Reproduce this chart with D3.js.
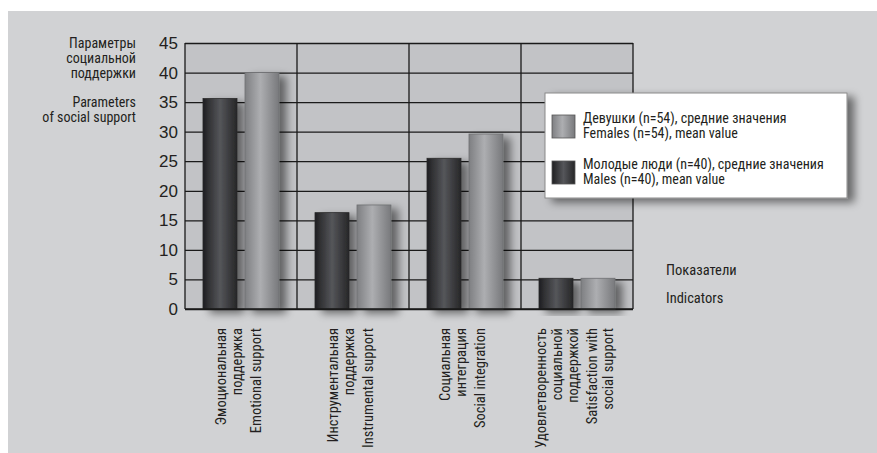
<!DOCTYPE html>
<html>
<head>
<meta charset="utf-8">
<script src="https://cdn.jsdelivr.net/npm/d3@7"></script>
<style>
  body { margin: 0; background: #fff; }
  text { font-family: "Liberation Sans Narrow", "Roboto Condensed", "Noto Sans", sans-serif; fill: #231f20; }
</style>
</head>
<body>
<div class="chart"></div>
<script>
// categories (Russian lines + English line for each group)
var categoriesRu = [
  ["Эмоциональная", "поддержка"],
  ["Инструментальная", "поддержка"],
  ["Социальная", "интеграция"],
  ["Удовлетворенность", "социальной", "поддержкой"]
];
var categoriesEn = [
  ["Emotional support"],
  ["Instrumental support"],
  ["Social integration"],
  ["Satisfaction with", "social support"]
];
// series values
var males = [35.6, 16.3, 25.5, 5.2];
var females = [40.0, 17.6, 29.6, 5.2];
// tick values
var yTicks = [0, 5, 10, 15, 20, 25, 30, 35, 40, 45];
var legendLabels = [
  ["Девушки (n=54), средние значения", "Females (n=54), mean value"],
  ["Молодые люди (n=40), средние значения", "Males (n=40), mean value"]
];

function init(){
  var w = 877, h = 453;
  var left = 185, right = 633, top = 43, bottom = 309;

  var svg = d3.select("div.chart").append("svg")
    .attr("width", w).attr("height", h);

  var defs = svg.append("defs");

  // bar gradients
  var gDark = defs.append("linearGradient").attr("id", "gDark");
  gDark.append("stop").attr("offset", "0%").attr("stop-color", "#1f1f21");
  gDark.append("stop").attr("offset", "50%").attr("stop-color", "#55565a");
  gDark.append("stop").attr("offset", "100%").attr("stop-color", "#262628");

  var gLight = defs.append("linearGradient").attr("id", "gLight");
  gLight.append("stop").attr("offset", "0%").attr("stop-color", "#7e7f82");
  gLight.append("stop").attr("offset", "45%").attr("stop-color", "#adaeb1");
  gLight.append("stop").attr("offset", "100%").attr("stop-color", "#78797c");

  var shadow = defs.append("filter").attr("id", "shadow")
    .attr("x", "-30%").attr("y", "-10%").attr("width", "180%").attr("height", "130%");
  shadow.append("feGaussianBlur").attr("in", "SourceAlpha").attr("stdDeviation", 4);
  shadow.append("feOffset").attr("dx", 7).attr("dy", 4).attr("result", "b");
  shadow.append("feComponentTransfer").append("feFuncA").attr("type", "linear").attr("slope", 0.5);
  var m = shadow.append("feMerge");
  m.append("feMergeNode");
  m.append("feMergeNode").attr("in", "SourceGraphic");

  // background
  svg.append("rect").attr("x", 8).attr("y", 11).attr("width", w - 8).attr("height", h - 11)
    .attr("fill", "#d1d2d4");

  var xScale = d3.scaleBand().domain(d3.range(categoriesRu.length)).range([left, right]);
  var yScale = d3.scaleLinear().domain([0, 45]).range([bottom, top]);

  // plot area
  svg.append("rect").attr("x", left).attr("y", top)
    .attr("width", right - left).attr("height", bottom - top)
    .attr("fill", "#c2c3c6");

  // horizontal grid
  svg.append("g")
    .attr("transform", "translate(" + left + ",0)")
    .call(d3.axisLeft(yScale).tickValues(yTicks).tickSize(-(right - left)).tickFormat(""))
    .call(function(g){
      g.select(".domain").remove();
      g.selectAll("line").attr("stroke", "#1a1a1a").attr("stroke-width", 1.3);
    });

  // vertical band separators
  svg.append("g").selectAll("line")
    .data(d3.range(categoriesRu.length + 1))
    .enter().append("line")
    .attr("x1", function(d){ return d < categoriesRu.length ? xScale(d) : right; })
    .attr("x2", function(d){ return d < categoriesRu.length ? xScale(d) : right; })
    .attr("y1", top).attr("y2", bottom)
    .attr("stroke", "#1a1a1a").attr("stroke-width", 1.3);

  // bars
  var bw = 34, off1 = 18, off2 = 60;
  var bars = svg.append("g");
  bars.selectAll("rect.m").data(males).enter().append("rect")
    .attr("class", "m")
    .attr("x", function(d, i){ return xScale(i) + off1; })
    .attr("y", function(d){ return yScale(d); })
    .attr("width", bw)
    .attr("height", function(d){ return bottom - yScale(d); })
    .attr("fill", "url(#gDark)")
    .attr("stroke", "#2a2a2a").attr("stroke-width", 0.8)
    .attr("filter", "url(#shadow)");
  bars.selectAll("rect.f").data(females).enter().append("rect")
    .attr("class", "f")
    .attr("x", function(d, i){ return xScale(i) + off2; })
    .attr("y", function(d){ return yScale(d); })
    .attr("width", bw)
    .attr("height", function(d){ return bottom - yScale(d); })
    .attr("fill", "url(#gLight)")
    .attr("stroke", "#6f7073").attr("stroke-width", 0.8)
    .attr("filter", "url(#shadow)");

  // bottom baseline
  svg.append("line").attr("x1", left).attr("x2", right)
    .attr("y1", bottom).attr("y2", bottom)
    .attr("stroke", "#1a1a1a").attr("stroke-width", 1.4);

  // y tick labels
  svg.append("g").selectAll("text").data(yTicks).enter().append("text")
    .attr("x", 178).attr("y", function(d){ return yScale(d) + 6; })
    .attr("text-anchor", "end")
    .style("font-family", "'Liberation Sans', 'Noto Sans', sans-serif")
    .style("font-size", "17px")
    .text(function(d){ return d; });

  // y axis title
  var yt = svg.append("text").attr("text-anchor", "end").style("font-size", "14px");
  [["Параметры", 48], ["социальной", 63], ["поддержки", 78], ["Parameters", 107], ["of social support", 122]]
    .forEach(function(r){ yt.append("tspan").attr("x", 136).attr("y", r[1]).text(r[0]); });

  // x axis title
  svg.append("text").attr("x", 666).attr("y", 275).style("font-size", "14.5px").text("Показатели");
  svg.append("text").attr("x", 666).attr("y", 303).style("font-size", "14.5px").text("Indicators");

  // x category labels (rotated)
  var lineGap = 16, blockGap = 19, labTop = 328;
  categoriesRu.forEach(function(ru, i){
    var width = (ru.length - 1) * lineGap + blockGap + (categoriesEn[i].length - 1) * lineGap;
    var cx = xScale(i) + xScale.bandwidth() / 2 - width / 2 - 4;
    var lines = ru.map(function(t, k){ return { t: t, x: cx + k * lineGap }; });
    var ex = cx + (ru.length - 1) * lineGap + blockGap;
    categoriesEn[i].forEach(function(t, k){ lines.push({ t: t, x: ex + k * lineGap }); });
    svg.append("g").selectAll("text").data(lines).enter().append("text")
      .attr("transform", function(d){ return "translate(" + (d.x + 6) + "," + labTop + ") rotate(-90)"; })
      .attr("text-anchor", "end")
      .style("font-size", "14.5px")
      .text(function(d){ return d.t; });
  });

  // legend
  var lg = svg.append("g").attr("transform", "translate(545,93)");
  lg.append("rect").attr("width", 302).attr("height", 105)
    .attr("fill", "#fff").attr("stroke", "#8a8a8a").attr("stroke-width", 1)
    .attr("filter", "url(#shadow)");
  var fills = ["url(#gLight)", "url(#gDark)"];
  legendLabels.forEach(function(lab, i){
    var y0 = 22 + i * 46;
    lg.append("rect").attr("x", 7).attr("y", y0).attr("width", 23).attr("height", 23)
      .attr("fill", fills[i]).attr("stroke", "#555").attr("stroke-width", 0.8);
    lg.append("text").attr("x", 38).attr("y", y0 + 8).style("font-size", "14px").text(lab[0]);
    lg.append("text").attr("x", 38).attr("y", y0 + 23).style("font-size", "14px").text(lab[1]);
  });
}

window.onload = init;
</script>
</body>
</html>
